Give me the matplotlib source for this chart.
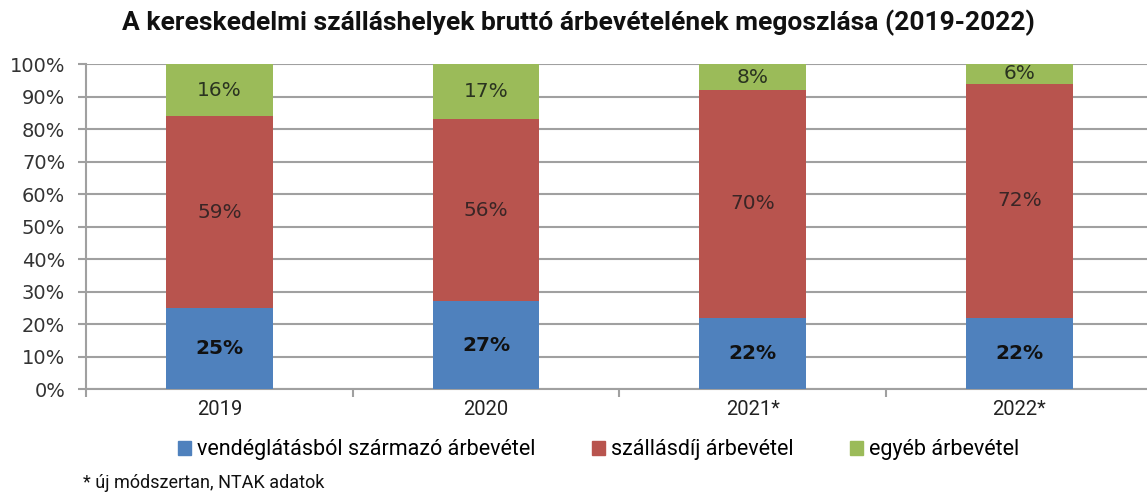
import matplotlib
matplotlib.use("Agg")
import matplotlib.pyplot as plt
from matplotlib.patches import Patch
from matplotlib import font_manager

years = ["2019", "2020", "2021*", "2022*"]
vendeg = [25, 27, 22, 22]
szallas = [59, 56, 70, 72]
egyeb = [16, 17, 8, 6]
series_names = ["vendéglátásból származó árbevétel", "szállásdíj árbevétel", "egyéb árbevétel"]
yticks = [0, 10, 20, 30, 40, 50, 60, 70, 80, 90, 100]

names = {f.name for f in font_manager.fontManager.ttflist}
narrow = "Liberation Sans Narrow" if "Liberation Sans Narrow" in names else "Roboto"

colors = ["#4F81BD", "#B8544E", "#9BBB59"]

fig = plt.figure(figsize=(11.47, 4.97), dpi=100)
ax = fig.add_axes([0.075, 0.217, 0.93, 0.654])

x = range(len(years))
w = 0.4
ax.bar(x, vendeg, width=w, color=colors[0], zorder=3)
bottom2 = vendeg
ax.bar(x, szallas, width=w, bottom=bottom2, color=colors[1], zorder=3)
bottom3 = [a + b for a, b in zip(vendeg, szallas)]
ax.bar(x, egyeb, width=w, bottom=bottom3, color=colors[2], zorder=3)

lab_fs = 14.5
for i in x:
    ax.text(i, vendeg[i] / 2, f"{vendeg[i]}%", ha="center", va="center",
            fontsize=lab_fs, fontweight="bold", color="#111111", family="DejaVu Sans", zorder=4)
    ax.text(i, bottom2[i] + szallas[i] / 2, f"{szallas[i]}%", ha="center", va="center",
            fontsize=lab_fs, color="#3a2626", family="DejaVu Sans", zorder=4)
    ax.text(i, bottom3[i] + egyeb[i] / 2, f"{egyeb[i]}%", ha="center", va="center",
            fontsize=lab_fs, color="#2a3320", family="DejaVu Sans", zorder=4)

ax.set_xlim(-0.5, 3.5)
ax.set_ylim(0, 100)
ax.set_yticks(yticks)
ax.set_yticklabels([f"{t}%" for t in yticks], family="DejaVu Sans", fontsize=14, color="#333333")
ax.yaxis.grid(True, color="#a0a0a0", linewidth=1.5, zorder=0)
ax.set_xticks(list(x))
ax.set_xticklabels(years, family=narrow, fontsize=14.5, color="#222222")
ax.set_xticks([-0.5, 0.5, 1.5, 2.5, 3.5], minor=True)
ax.tick_params(axis="x", which="major", length=0, pad=8)
ax.tick_params(axis="x", which="minor", length=6, color="#a0a0a0", width=1.5)
ax.tick_params(axis="y", length=6, color="#a0a0a0", width=1.5, pad=9)
for s in ["top", "right"]:
    ax.spines[s].set_visible(False)
for s in ["left", "bottom"]:
    ax.spines[s].set_color("#a0a0a0")
    ax.spines[s].set_linewidth(1.5)

fig.text(0.504, 0.955, "A kereskedelmi szálláshelyek bruttó árbevételének megoszlása (2019-2022)",
         ha="center", va="center", fontsize=19, fontweight="bold", family=narrow, color="#111111")

handles = [Patch(color=c) for c in colors]
fig.legend(handles, series_names, loc="center", bbox_to_anchor=(0.522, 0.095), ncol=3,
           frameon=False, prop={"family": narrow, "size": 15.5}, handlelength=0.6, handleheight=0.6,
           handletextpad=0.3, columnspacing=2.6)

fig.text(0.072, 0.028, "* új módszertan, NTAK adatok", ha="left", va="center",
         fontsize=13, family=narrow, color="#111111")

fig.savefig("out.png", dpi=100)
